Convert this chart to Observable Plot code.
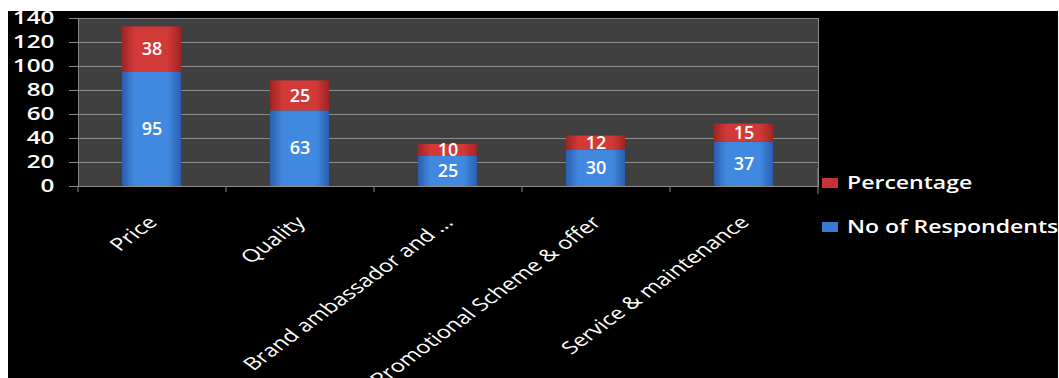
<!DOCTYPE html>
<html>
<head>
<meta charset="utf-8">
<script src="https://cdn.jsdelivr.net/npm/d3@7"></script>
<script src="https://cdn.jsdelivr.net/npm/@observablehq/plot@0.6"></script>
<style>
  html, body { margin: 0; padding: 0; background: #ffffff; }
  #frame { position: absolute; left: 8px; top: 11px; width: 1050px; height: 367px; background: #000; overflow: hidden; font-family: "Open Sans", sans-serif; }
  #chart { position: absolute; left: 0; top: 0; }
  .leg { position: absolute; left: 814px; color: #fff; font-size: 18px; font-weight: 600; white-space: nowrap; line-height: 20px; }
  .sw { display: inline-block; width: 16px; height: 10px; margin-right: 9px; vertical-align: 1px; }
  .lt { display: inline-block; transform: scaleX(1.28); transform-origin: 0 50%; }
</style>
</head>
<body>
<div id="frame">
  <div id="chart"></div>
  <div id="legend"></div>
</div>
<script>
const categories = ["Price", "Quality", "Brand ambassador and ...", "Promotional Scheme & offer", "Service & maintenance"];
const respondents = [95, 63, 25, 30, 37];
const percentage = [38, 25, 10, 12, 15];
const seriesNames = ["No of Respondents", "Percentage"];
const seriesColors = ["#3a7ad4", "#c83232"];
const yTicks = [0, 20, 40, 60, 80, 100, 120, 140];

const data = categories.flatMap((c, i) => [
  {category: c, series: seriesNames[0], value: respondents[i]},
  {category: c, series: seriesNames[1], value: percentage[i]}
]);

const defs = () => {
  const d = d3.create("svg:defs");
  const grads = [["gBlue", "#2a5fae", "#4189e0"], ["gRed", "#9e2424", "#d23a38"]];
  for (const [id, edge, mid] of grads) {
    const g = d.append("linearGradient").attr("id", id).attr("x1", "0").attr("x2", "1").attr("y1", "0").attr("y2", "0");
    g.append("stop").attr("offset", "0%").attr("stop-color", edge);
    g.append("stop").attr("offset", "22%").attr("stop-color", mid);
    g.append("stop").attr("offset", "78%").attr("stop-color", mid);
    g.append("stop").attr("offset", "100%").attr("stop-color", edge);
  }
  return d.node();
};

const gridColor = "#8a8a8a";

const chart = Plot.plot({
  width: 1050,
  height: 367,
  marginLeft: 70,
  marginRight: 240,
  marginTop: 7,
  marginBottom: 192,
  style: {background: "transparent", color: "#fff", fontFamily: "'Open Sans', sans-serif", overflow: "visible"},
  x: {domain: categories, paddingInner: 0.6, paddingOuter: 0.3, label: null},
  y: {domain: [0, 140], ticks: yTicks, label: null},
  color: {domain: seriesNames, range: ["url(#gBlue)", "url(#gRed)"]},
  marks: [
    defs,
    Plot.frame({fill: "#404040", stroke: gridColor}),
    Plot.gridY(yTicks, {stroke: gridColor, strokeOpacity: 1}),
    Plot.ruleX(categories, {x: d => d, dx: -74, insetTop: 168, insetBottom: -6, stroke: gridColor}),
    Plot.ruleX(categories.slice(-1), {x: d => d, dx: 74, insetTop: 150, insetBottom: -8, stroke: gridColor}),
    Plot.barY(data, {x: "category", y: "value", fill: "series"}),
    Plot.text(data, Plot.stackY({x: "category", y: "value", z: "series", text: "value", fill: "#fff", fontSize: 18, fontWeight: 600, ariaLabel: "value-label"})),
    Plot.axisY(yTicks, {tickSize: 9, tickPadding: 15, stroke: gridColor, fill: "#fff", fontSize: 18, fontWeight: 600, tickFormat: d => String(d)}),
    Plot.axisX({tickSize: 0, tickPadding: 33, tickRotate: -45, fill: "#fff", fontSize: 17.5, fontWeight: 500, dx: 1})
  ]
});
document.getElementById("chart").appendChild(chart);

// widen the glyphs horizontally (in screen space), as in the reference
function stretch(selector, s) {
  chart.querySelectorAll(selector).forEach(t => {
    const tr = t.getAttribute("transform") || "";
    if (tr.includes("rotate")) t.setAttribute("transform", tr.replace("rotate", `scale(${s},1) rotate`));
    else t.setAttribute("transform", `${tr} scale(${s},1)`);
  });
}
stretch('g[aria-label="y-axis tick label"] text', 1.35);
stretch('g[aria-label="x-axis tick label"] text', 1.36);
stretch('g[aria-label="value-label"] text', 1.35);

const legend = document.getElementById("legend");
const legendItems = [[seriesNames[1], seriesColors[1], 161], [seriesNames[0], seriesColors[0], 205]];
for (const [name, col, top] of legendItems) {
  const el = document.createElement("div");
  el.className = "leg";
  el.style.top = top + "px";
  el.innerHTML = `<span class="sw" style="background:${col}"></span><span class="lt">${name}</span>`;
  legend.appendChild(el);
}
</script>
</body>
</html>
